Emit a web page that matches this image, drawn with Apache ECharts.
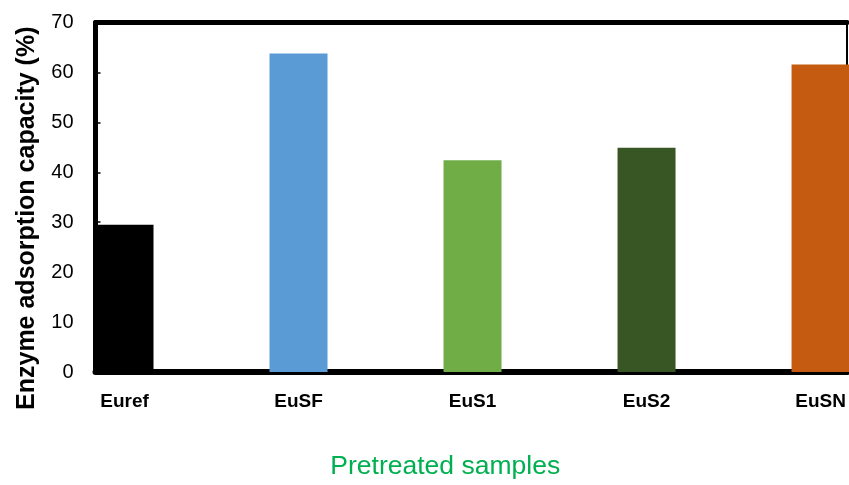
<!DOCTYPE html>
<html>
<head>
<meta charset="utf-8">
<script src="https://cdn.jsdelivr.net/npm/echarts@6/dist/echarts.min.js"></script>
<style>html,body{margin:0;padding:0;background:#fff}#c{width:849px;height:485px}</style>
</head>
<body>
<div id="c"></div>
<script>
var categories = ['Euref', 'EuSF', 'EuS1', 'EuS2', 'EuSN'];
var values = [29.5, 63.8, 42.4, 44.9, 61.6];
var colors = ['#000000', '#5B9BD5', '#70AD47', '#375623', '#C55A11'];
var yTicks = [0, 10, 20, 30, 40, 50, 60, 70];

var chart = echarts.init(document.getElementById('c'));
var F = '"Liberation Sans", Arial, sans-serif';
chart.setOption({
  animation: false,
  grid: { left: 95.5, right: 2, top: 22.5, bottom: 97 },
  xAxis: [{
    type: 'value', min: -0.1667, max: 4.152,
    name: 'Pretreated samples', nameLocation: 'middle', nameGap: 81,
    nameTextStyle: { color: '#00B050', fontSize: 26.5, fontFamily: F, padding: [0, 52, 0, 0] },
    axisLine: { show: true, onZero: false, lineStyle: { color: '#000', width: 6 } },
    axisTick: { show: false },
    splitLine: { show: false },
    axisLabel: {
      customValues: [0, 1, 2, 3, 4],
      formatter: function (v) { return categories[Math.round(v)] || ''; },
      color: '#000', fontSize: 19, fontWeight: 'bold', fontFamily: F, margin: 20
    }
  }, {
    type: 'value', position: 'top', min: -0.1667, max: 4.152,
    axisLine: { show: true, onZero: false, lineStyle: { color: '#000', width: 5 } },
    axisTick: { show: false }, axisLabel: { show: false }, splitLine: { show: false }
  }],
  yAxis: [{
    type: 'value', min: yTicks[0], max: yTicks[yTicks.length - 1], interval: 10,
    name: 'Enzyme adsorption capacity (%)', nameLocation: 'middle', nameGap: 56,
    nameTextStyle: { color: '#000', fontSize: 25, fontWeight: 'bold', fontFamily: F, padding: [0, 42, 0, 0] },
    axisLine: { show: true, onZero: false, lineStyle: { color: '#000', width: 5 } },
    axisTick: { show: true, inside: true, length: 5, lineStyle: { color: '#000', width: 1.5 } },
    splitLine: { show: false },
    axisLabel: { color: '#000', fontSize: 20, fontFamily: F, margin: 22 }
  }, {
    type: 'value', position: 'right', min: 0, max: 70,
    axisLine: { show: true, onZero: false, lineStyle: { color: '#000', width: 2 } },
    axisTick: { show: false }, axisLabel: { show: false }, splitLine: { show: false }
  }],
  series: [{
    type: 'bar', barWidth: 58, clip: false,
    data: values.map(function (v, i) {
      return { value: [i, v], itemStyle: { color: colors[i] } };
    })
  }]
});
</script>
</body>
</html>
